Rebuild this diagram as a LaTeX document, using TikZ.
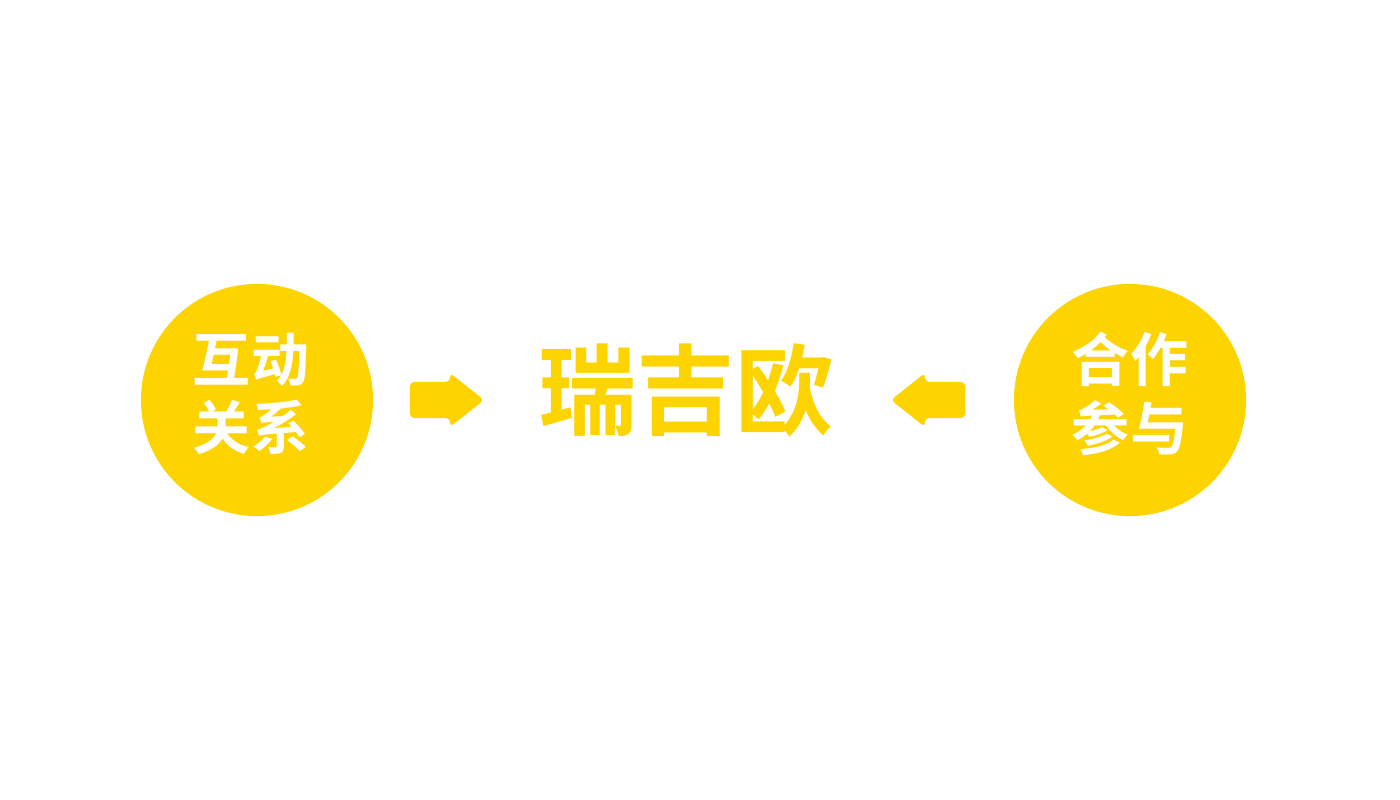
\documentclass[tikz,border=0pt]{standalone}
\usepackage{fontspec}
\newfontfamily\cjk{Noto Sans CJK SC Bold}
\definecolor{ryellow}{HTML}{FDD400}
\begin{document}
\begin{tikzpicture}[x=0.01cm,y=-0.01cm,
  circ/.style={circle,fill=ryellow,minimum size=2.32cm,inner sep=0pt},
  ctext/.style={text=white,font=\cjk\fontsize{16.5}{19.5}\selectfont,align=center},
  blockarrow/.style={fill=ryellow,rounded corners=1.2pt}]
\useasboundingbox (0,0) rectangle (1400,800);
\node[circ] (L) at (257,400) {};
\node[circ] (R) at (1130,400) {};
\node[ctext] (Lt) at ([xshift=-0.06cm,yshift=0.06cm]L.center) {互动\\关系};
\node[ctext] (Rt) at ([yshift=0.06cm]R.center) {合作\\参与};
\node[text=ryellow,font=\cjk\fontsize{28}{32}\selectfont] (C) at (686,390) {瑞吉欧};
\coordinate (la) at (447,400);
\coordinate (ra) at (928,400);
\fill[blockarrow] ([xshift=-0.37cm,yshift=-0.18cm]la) -- ([xshift=0.03cm,yshift=-0.18cm]la) -- ([xshift=0.03cm,yshift=-0.27cm]la) -- ([xshift=0.37cm]la) -- ([xshift=0.03cm,yshift=0.27cm]la) -- ([xshift=0.03cm,yshift=0.18cm]la) -- ([xshift=-0.37cm,yshift=0.18cm]la) -- cycle;
\fill[blockarrow] ([xshift=0.37cm,yshift=-0.18cm]ra) -- ([xshift=-0.03cm,yshift=-0.18cm]ra) -- ([xshift=-0.03cm,yshift=-0.27cm]ra) -- ([xshift=-0.37cm]ra) -- ([xshift=-0.03cm,yshift=0.27cm]ra) -- ([xshift=-0.03cm,yshift=0.18cm]ra) -- ([xshift=0.37cm,yshift=0.18cm]ra) -- cycle;
\end{tikzpicture}
\end{document}
